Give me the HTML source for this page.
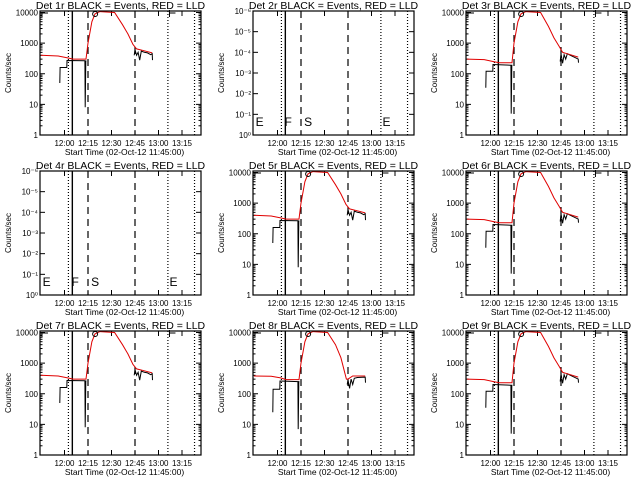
<!DOCTYPE html>
<html><head><meta charset="utf-8">
<style>
html,body{margin:0;padding:0;background:#fff;}
svg{display:block;font-family:"Liberation Sans",sans-serif;}
</style></head>
<body>
<svg id="c" width="640" height="480" viewBox="0 0 640 480"></svg>
<script>
// minutes after 11:45:00
const redTimesA = [0, 11, 17, 20.5, 28.7, 30, 32.5, 34.5, 37.6, 47, 52, 55.5, 58.7, 61, 66, 71];
const redValsA  = [400, 380, 330, 300, 300, 1000, 5000, 9000, 12000, 10000, 4000, 2000, 900, 650, 560, 480];
const blackTimesA = [12, 12.2, 13.2, 16.5, 16.6, 28, 28.2, 28.6, 29, null, 59.5, 60, 61, 62, 63, 64, 66, 68, 70, 71, 71.2];
const blackValsA  = [50, 160, 160, 160, 270, 265, 8, 260, 260, null, 400, 600, 400, 500, 280, 550, 500, 480, 420, 450, 280];

const redTimesB = [0, 11, 17, 20.5, 28.7, 30, 32.5, 34.5, 37.6, 47, 52, 55.5, 59, 60, 63, 71];
const redValsB  = [380, 370, 330, 290, 290, 1000, 5000, 9000, 12000, 10000, 4000, 1500, 300, 300, 380, 380];
const blackTimesB = [12, 12.2, 13.2, 16.5, 16.6, 28, 28.2, 28.6, 29, null, 59.5, 60, 61, 62, 63, 64, 66, 71, 71.2];
const blackValsB  = [25, 140, 140, 140, 260, 250, 7, 250, 250, null, 200, 280, 150, 300, 200, 320, 340, 350, 230];

const redTimesC = [0, 11, 17, 20.5, 28.7, 30, 32.5, 34.5, 37.6, 47, 52, 55.5, 58.7, 61, 66, 71];
const redValsC  = [300, 290, 250, 230, 230, 1000, 5000, 9000, 12000, 10000, 3500, 1500, 800, 500, 420, 350];
const blackTimesC = [12, 12.2, 13.2, 16.5, 16.6, 28, 28.2, 28.6, 29, null, 59.5, 60, 61, 62, 63, 64, 66, 71, 71.2];
const blackValsC  = [35, 120, 120, 120, 200, 190, 5, 190, 190, null, 250, 450, 220, 420, 300, 450, 400, 300, 230];

const panelTitles = ["Det 1r","Det 2r","Det 3r","Det 4r","Det 5r","Det 6r","Det 7r","Det 8r","Det 9r"];
const logTicks = [1, 10, 100, 1000, 10000];
const logTickLabels = ["1","10","100","1000","10000"];
const emptyTickLabels = ["10⁰","10⁻¹","10⁻²","10⁻³","10⁻⁴","10⁻⁵","10⁻⁶"];
const timeTicks = [15, 30, 45, 60, 75, 90];
const timeTickLabels = ["12:00","12:15","12:30","12:45","13:00","13:15"];
const dottedLines = [17.5, 81, 98];
const solidLines = [20];
const dashedLines = [30, 60];
const flagTimes = [1, 19.5, 32, 82];
const flagLetters = ["E","F","S","E"];

const NS = "http://www.w3.org/2000/svg";
const svg = document.getElementById("c");
function el(tag, attrs, parent) {
  const e = document.createElementNS(NS, tag);
  for (const k in attrs) e.setAttribute(k, attrs[k]);
  (parent || svg).appendChild(e);
  return e;
}
const L = 40, R = 201, T = 11, B = 135;
const minPerPx = 30 / 47;
const xs = m => 41 + m / minPerPx;
const ys = v => B - (Math.log10(v)) * (B - 12.5) / 4;

function series(g, times, vals, color, name) {
  let d = "", pen = false;
  for (let i = 0; i < times.length; i++) {
    if (times[i] === null) { pen = false; continue; }
    const v = Math.min(Math.max(vals[i], 1), 10700);
    d += (pen ? "L" : "M") + xs(times[i]).toFixed(1) + " " + ys(v).toFixed(1);
    pen = true;
  }
  const p = el("path", {d: d, fill: "none", stroke: color, "stroke-width": 1}, g);
  
  
}

const dataSets = [
  [redTimesA, redValsA, blackTimesA, blackValsA],
  null,
  [redTimesC, redValsC, blackTimesC, blackValsC],
  null,
  [redTimesA, redValsA, blackTimesA, blackValsA],
  [redTimesC, redValsC, blackTimesC, blackValsC],
  [redTimesA, redValsA, blackTimesA, blackValsA],
  [redTimesB, redValsB, blackTimesB, blackValsB],
  [redTimesC, redValsC, blackTimesC, blackValsC]
];

for (let p = 0; p < 9; p++) {
  const ox = (p % 3) * 213, oy = Math.floor(p / 3) * 160;
  const g = el("g", {transform: `translate(${ox},${oy})`});
  
  
  const ds = dataSets[p];

  const title = el("text", {x: (L + R) / 2, y: 9, "font-size": 10.5, "text-anchor": "middle"}, g);
  title.textContent = panelTitles[p] + " BLACK = Events, RED = LLD";
  
  

  const yl = el("text", {x: 0, y: 0, "font-size": 8, "text-anchor": "middle", transform: `translate(11,${(T + B) / 2}) rotate(-90)`}, g);
  yl.textContent = "Counts/sec";
  
  

  const xl = el("text", {x: (L + R) / 2 + 4, y: 155, "font-size": 8.5, "text-anchor": "middle"}, g);
  xl.textContent = "Start Time (02-Oct-12 11:45:00)";
  
  

  for (let i = 0; i < timeTicks.length; i++) {
    const x = xs(timeTicks[i]);
    el("line", {x1: x, x2: x, y1: B, y2: B - 5, stroke: "#000"}, g);
    el("line", {x1: x, x2: x, y1: T, y2: T + 5, stroke: "#000"}, g);
    const t = el("text", {x: x, y: 146, "font-size": 8, "text-anchor": "middle"}, g);
    t.textContent = timeTickLabels[i];
    
    
  }

  if (ds) {
    for (let i = 0; i < logTicks.length; i++) {
      const y = ys(logTicks[i]);
      el("line", {x1: L, x2: L + 5, y1: y, y2: y, stroke: "#000"}, g);
      el("line", {x1: R, x2: R - 5, y1: y, y2: y, stroke: "#000"}, g);
      for (let k = 2; k < 10 && i < logTicks.length - 1; k++) {
        const ym = ys(logTicks[i] * k);
        el("line", {x1: L, x2: L + 2.5, y1: ym, y2: ym, stroke: "#000"}, g);
        el("line", {x1: R, x2: R - 2.5, y1: ym, y2: ym, stroke: "#000"}, g);
      }
      const t = el("text", {x: L - 2, y: y + 3, "font-size": 8, "text-anchor": "end"}, g);
      t.textContent = logTickLabels[i];
      
      
    }
  } else {
    for (let i = 0; i < emptyTickLabels.length; i++) {
      const y = B - i * (B - T) / 6;
      el("line", {x1: L, x2: L + 5, y1: y, y2: y, stroke: "#000"}, g);
      el("line", {x1: R, x2: R - 5, y1: y, y2: y, stroke: "#000"}, g);
      const t = el("text", {x: L - 2, y: y + 3, "font-size": 8, "text-anchor": "end"}, g);
      t.textContent = emptyTickLabels[i];
      
      
    }
  }

  for (const m of dottedLines) el("line", {x1: xs(m), x2: xs(m), y1: T, y2: B, stroke: "#000", "stroke-dasharray": "1 2", "stroke-width": 1.2}, g);
  for (const m of solidLines) el("line", {x1: xs(m), x2: xs(m), y1: T, y2: B, stroke: "#000", "stroke-width": 1.4}, g);
  for (const m of dashedLines) el("line", {x1: xs(m), x2: xs(m), y1: T, y2: B, stroke: "#000", "stroke-dasharray": "7 5", "stroke-width": 1.2}, g);

  if (ds) {
    series(g, ds[2], ds[3], "#000", "events-series");
    series(g, ds[0], ds[1], "#e00000", "lld-series");
    el("path", {d: `M${L+2} 17V13H${L+8}`, fill: "none", stroke: "#000"}, g);
    el("path", {d: `M${xs(82)} 17V13H${xs(82)+6}`, fill: "none", stroke: "#000"}, g);
    el("path", {d: `M${xs(82)} 10V13`, fill: "none", stroke: "#000"}, g);
    el("circle", {cx: xs(32) + 4, cy: 14, r: 2.5, fill: "none", stroke: "#000"}, g);
  } else {
    for (let i = 0; i < flagTimes.length; i++) {
      const t = el("text", {x: xs(flagTimes[i]), y: 126, "font-size": 12}, g);
      t.textContent = flagLetters[i];
      
      
    }
  }

  const box = el("rect", {x: L, y: T, width: R - L, height: B - T, fill: "none", stroke: "#000", "stroke-width": 1.2}, g);
  
  
}
</script>
</body></html>
